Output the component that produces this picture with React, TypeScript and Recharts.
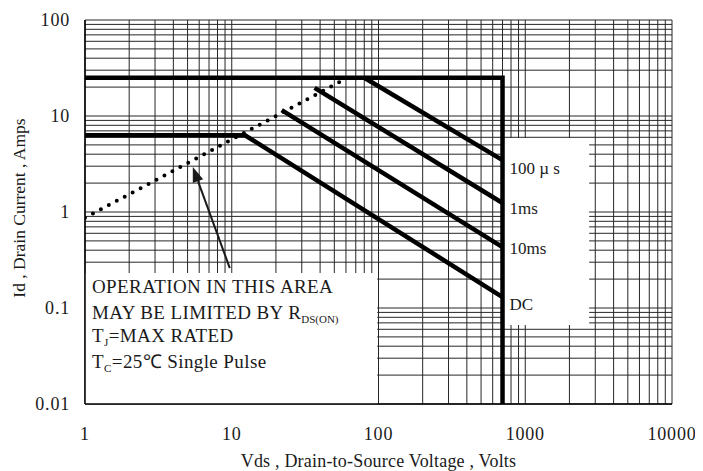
import React from 'react';
import { LineChart, Line, XAxis, YAxis, CartesianGrid, ReferenceArea, ReferenceLine } from 'recharts';

// log grid, one tick per minor division
const X_TICKS = [
  1, 2, 3, 4, 5, 6, 7, 8, 9,
  10, 20, 30, 40, 50, 60, 70, 80, 90,
  100, 200, 300, 400, 500, 600, 700, 800, 900,
  1000, 2000, 3000, 4000, 5000, 6000, 7000, 8000, 9000,
  10000,
];
const Y_TICKS = [
  0.01, 0.02, 0.03, 0.04, 0.05, 0.06, 0.07, 0.08, 0.09,
  0.1, 0.2, 0.3, 0.4, 0.5, 0.6, 0.7, 0.8, 0.9,
  1, 2, 3, 4, 5, 6, 7, 8, 9,
  10, 20, 30, 40, 50, 60, 70, 80, 90,
  100,
];
const X_LABELS = ['1', '10', '100', '1000', '10000'];
const Y_LABELS = ['0.01', '0.1', '1', '10', '100'];

// SOA boundary (Id max + Vds max)
const LIMIT_V = [1, 700, 700];
const LIMIT_I = [25, 25, 0.01];
// pulse / DC lines
const DC_V = [1, 12.3, 700];
const DC_I = [6.3, 6.3, 0.13];
const MS10_V = [21.9, 700];
const MS10_I = [11.5, 0.43];
const MS1_V = [36.7, 700];
const MS1_I = [19.6, 1.24];
const US100_V = [80, 700];
const US100_I = [25, 3.47];
// Rds(on) limit, dotted
const RDS_V = [1, 60];
const RDS_I = [0.87, 24.5];

// arrow pointing at the Rds(on) line
const ARROW_V = [9.7, 5.43];
const ARROW_I = [0.26, 2.94];

// white boxes over the grid
const NOTE_BOX_V = [1, 98];
const NOTE_BOX_I = [0.01, 0.232];
const TAG_BOX_V = [700, 2725];
const TAG_BOX_I = [0.0665, 5.9];

const FONT = "'Liberation Serif', 'Times New Roman', serif";
const INK = '#1a1a1a';

const toRows = (v: number[], i: number[]) => v.map((x, k) => ({ v: x, i: i[k] }));

const XTick = ({ x, y, payload }: any) => {
  const idx = [1, 10, 100, 1000, 10000].indexOf(payload.value);
  if (idx < 0) return <g />;
  return (
    <text x={x} y={y + 30} textAnchor="middle" dominantBaseline="central" fontFamily={FONT} style={{ fontFamily: FONT }} fontSize={18} letterSpacing={0.8} fill={INK}>
      {X_LABELS[idx]}
    </text>
  );
};

const YTick = ({ x, y, payload }: any) => {
  const idx = [0.01, 0.1, 1, 10, 100].indexOf(payload.value);
  if (idx < 0) return <g />;
  return (
    <text x={x - 15} y={y} textAnchor="end" dominantBaseline="central" fontFamily={FONT} style={{ fontFamily: FONT }} fontSize={18} letterSpacing={0.8} fill={INK}>
      {Y_LABELS[idx]}
    </text>
  );
};

const endLabel = (text: string, count: number, dy: number) => (props: any) => {
  if (props.index !== count - 1) return <g />;
  return (
    <text x={props.x + 7} y={props.y + dy} dominantBaseline="central" fontFamily={FONT} style={{ fontFamily: FONT }} fontSize={17} fill={INK}>
      {text}
    </text>
  );
};

const NoteText = ({ viewBox }: any) => {
  const x = viewBox.x + 7;
  const y = viewBox.y;
  return (
    <text fontFamily={FONT} style={{ fontFamily: FONT }} fontSize={19} letterSpacing={0.4} fill={INK}>
      <tspan x={x} y={y + 20}>OPERATION IN THIS AREA</tspan>
      <tspan x={x} y={y + 46}>MAY BE LIMITED BY R</tspan>
      <tspan fontSize={11} dy={4} letterSpacing={0}>DS(ON)</tspan>
      <tspan x={x} y={y + 69}>T</tspan>
      <tspan fontSize={11} dy={4}>J</tspan>
      <tspan dy={-4}>=MAX RATED</tspan>
      <tspan x={x} y={y + 95}>T</tspan>
      <tspan fontSize={11} dy={4}>C</tspan>
      <tspan dy={-4}>=25℃  Single Pulse</tspan>
    </text>
  );
};

const Arrow = (props: any) => {
  const { x1, y1, x2, y2 } = props;
  const ang = Math.atan2(y2 - y1, x2 - x1);
  const len = 15;
  const half = 5.5;
  const bx = x2 - len * Math.cos(ang);
  const by = y2 - len * Math.sin(ang);
  const px = -Math.sin(ang) * half;
  const py = Math.cos(ang) * half;
  return (
    <g>
      <line x1={x1} y1={y1} x2={bx} y2={by} stroke={INK} strokeWidth={2} />
      <polygon points={`${x2},${y2} ${bx + px},${by + py} ${bx - px},${by - py}`} fill={INK} />
    </g>
  );
};

export default function App() {
  const thick = { stroke: '#000', strokeWidth: 4.5, dot: false, activeDot: false, isAnimationActive: false, type: 'linear' as const };
  return (
    <div style={{ width: 687, height: 463 }}>
      <LineChart width={687} height={463} margin={{ top: 12, right: 23, bottom: 8, left: 0 }}>
        <CartesianGrid stroke="#262626" strokeWidth={1} />
        <XAxis
          dataKey="v"
          type="number"
          scale="log"
          domain={[1, 10000]}
          ticks={X_TICKS}
          interval={0}
          allowDataOverflow
          tickSize={0}
          tickMargin={0}
          height={59}
          stroke="#000"
          strokeWidth={1.5}
          tick={XTick}
          label={({ viewBox }: any) => (
            <text x={viewBox.x + viewBox.width / 2} y={viewBox.y + 57} textAnchor="middle" dominantBaseline="central" fontFamily={FONT} style={{ fontFamily: FONT }} fontSize={18} letterSpacing={0.2} fill={INK}>
              Vds , Drain-to-Source Voltage , Volts
            </text>
          )}
        />
        <YAxis
          dataKey="i"
          type="number"
          scale="log"
          domain={[0.01, 100]}
          ticks={Y_TICKS}
          interval={0}
          allowDataOverflow
          tickSize={0}
          tickMargin={0}
          width={77}
          stroke="#000"
          strokeWidth={1.5}
          tick={YTick}
          label={({ viewBox }: any) => (
            <text
              x={11}
              y={viewBox.y + 188}
              textAnchor="middle"
              dominantBaseline="central"
              fontFamily={FONT}
              style={{ fontFamily: FONT }}
              fontSize={17.5}
              fill={INK}
              transform={`rotate(-90 11 ${viewBox.y + 188})`}
            >
              Id , Drain Current , Amps
            </text>
          )}
        />
        <ReferenceArea
          x1={NOTE_BOX_V[0]}
          x2={NOTE_BOX_V[1]}
          y1={NOTE_BOX_I[0]}
          y2={NOTE_BOX_I[1]}
          fill="#fff"
          fillOpacity={1}
          stroke="none"
          label={NoteText}
        />
        <ReferenceArea
          x1={TAG_BOX_V[0]}
          x2={TAG_BOX_V[1]}
          y1={TAG_BOX_I[0]}
          y2={TAG_BOX_I[1]}
          fill="#fff"
          fillOpacity={1}
          stroke="none"
        />
        <ReferenceLine
          segment={[{ x: ARROW_V[0], y: ARROW_I[0] }, { x: ARROW_V[1], y: ARROW_I[1] }]}
          shape={Arrow}
          ifOverflow="visible"
        />
        <Line
          data={toRows(RDS_V, RDS_I)}
          dataKey="i"
          stroke="#000"
          strokeWidth={4}
          strokeDasharray="0 9"
          strokeLinecap="round"
          dot={false}
          activeDot={false}
          isAnimationActive={false}
        />
        <Line data={toRows(LIMIT_V, LIMIT_I)} dataKey="i" {...thick} />
        <Line data={toRows(US100_V, US100_I)} dataKey="i" {...thick} label={endLabel('100 µ s', US100_V.length, 8)} />
        <Line data={toRows(MS1_V, MS1_I)} dataKey="i" {...thick} label={endLabel('1ms', MS1_V.length, 5)} />
        <Line data={toRows(MS10_V, MS10_I)} dataKey="i" {...thick} label={endLabel('10ms', MS10_V.length, 1)} />
        <Line data={toRows(DC_V, DC_I)} dataKey="i" {...thick} label={endLabel('DC', DC_V.length, 7)} />
      </LineChart>
    </div>
  );
}
